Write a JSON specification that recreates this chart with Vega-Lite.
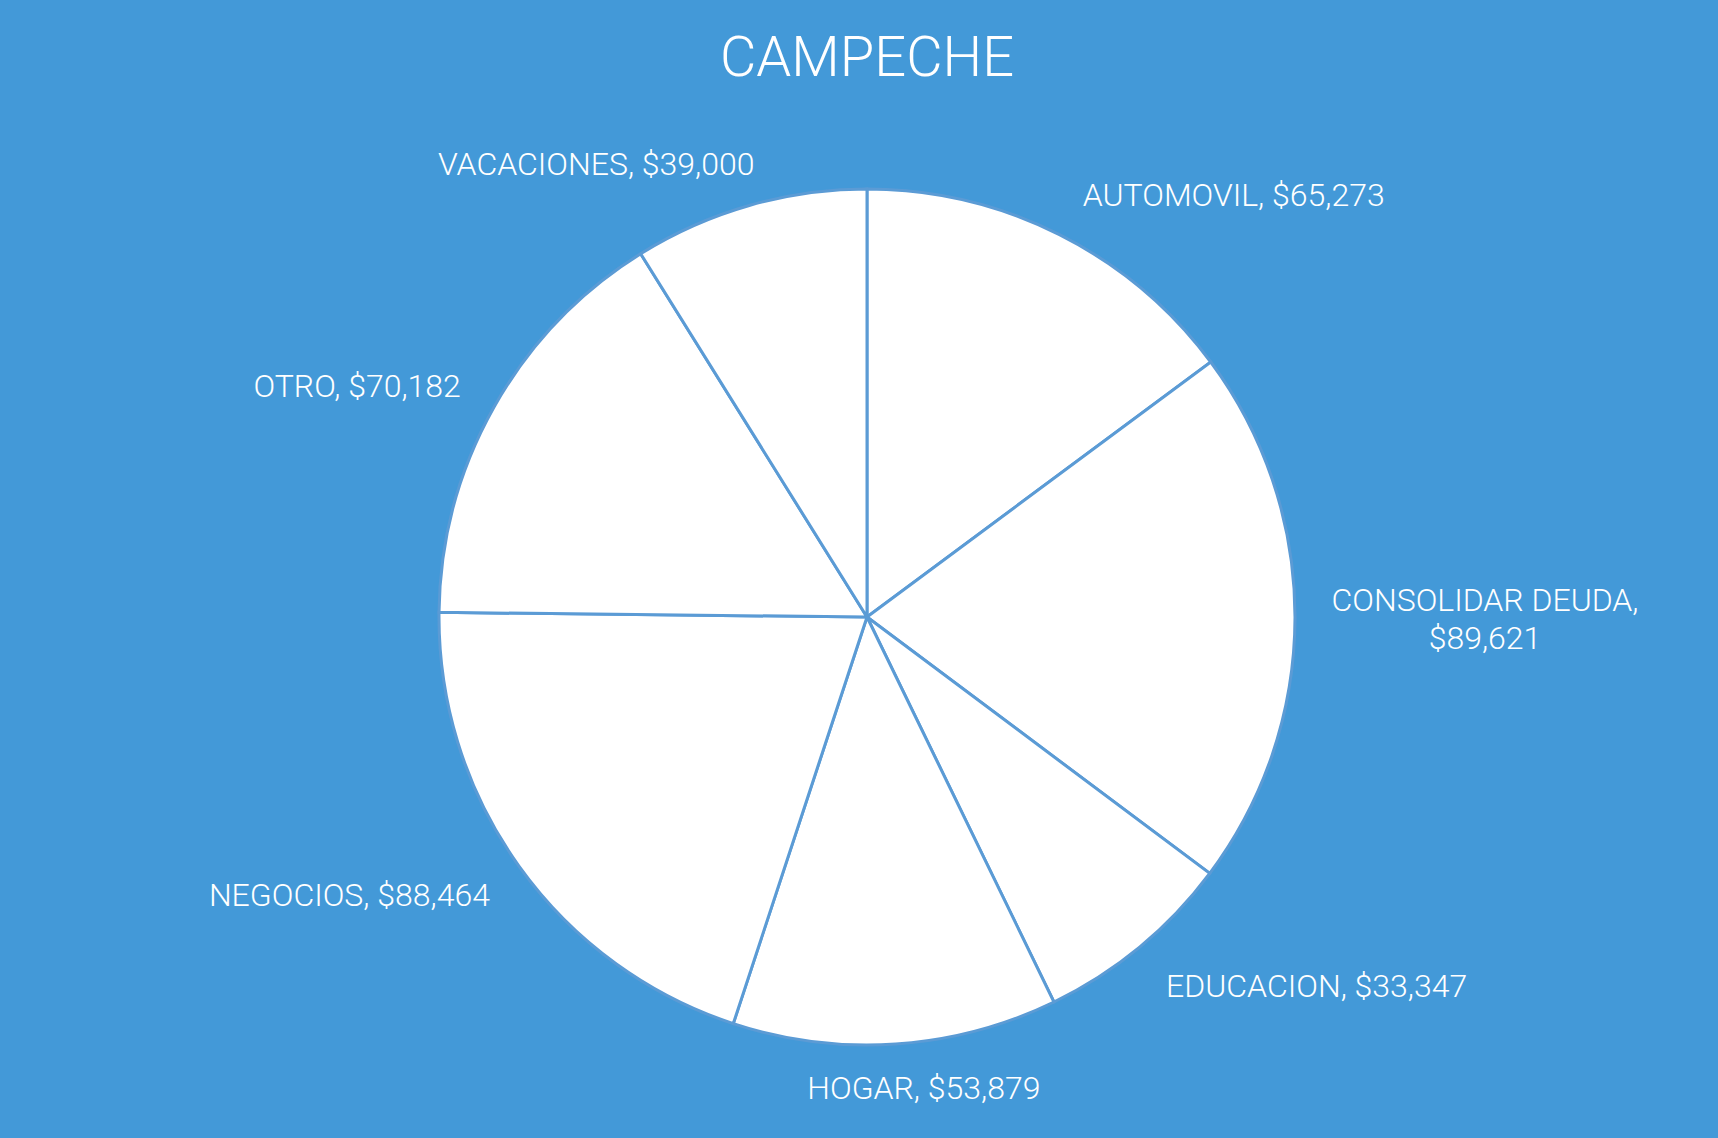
{
  "$schema": "https://vega.github.io/schema/vega-lite/v6.json",
  "autosize": {"type": "none"},
  "width": 1702,
  "height": 1042,
  "padding": {"left": 16, "top": 96, "right": 0, "bottom": 0},
  "background": "#4399d8",
  "view": {"stroke": null},
  "title": {
    "text": "CAMPECHE",
    "font": "Roboto",
    "fontWeight": 300,
    "fontSize": 56,
    "color": "#ffffff",
    "anchor": "middle",
    "offset": 8
  },
  "data": {
    "values": [
      {"k": 1, "cat": "AUTOMOVIL", "value": 65273, "label": "AUTOMOVIL, $65,273"},
      {"k": 2, "cat": "CONSOLIDAR DEUDA", "value": 89621, "label": "CONSOLIDAR DEUDA,\n$89,621"},
      {"k": 3, "cat": "EDUCACION", "value": 33347, "label": "EDUCACION, $33,347"},
      {"k": 4, "cat": "HOGAR", "value": 53879, "label": "HOGAR, $53,879"},
      {"k": 5, "cat": "NEGOCIOS", "value": 88464, "label": "NEGOCIOS, $88,464"},
      {"k": 6, "cat": "OTRO", "value": 70182, "label": "OTRO, $70,182"},
      {"k": 7, "cat": "VACACIONES", "value": 39000, "label": "VACACIONES, $39,000"}
    ]
  },
  "encoding": {
    "theta": {"field": "value", "type": "quantitative", "stack": true},
    "order": {"field": "k", "type": "quantitative"}
  },
  "layer": [
    {
      "mark": {"type": "arc", "outerRadius": 428, "fill": "#ffffff", "stroke": "#5b9bd5", "strokeWidth": 3}
    },
    {
      "mark": {"type": "text", "clip": true, "radius": 460, "dx": 9, "align": "left", "baseline": "alphabetic", "font": "Roboto", "fontWeight": 300, "fontSize": 32, "fill": "#ffffff"},
      "encoding": {"text": {"condition": {"test": "datum.cat === 'AUTOMOVIL'", "field": "label"}, "value": ""}}
    },
    {
      "mark": {"type": "text", "clip": true, "radius": 465, "dx": 3, "dy": -4, "align": "left", "baseline": "top", "font": "Roboto", "fontWeight": 300, "fontSize": 32, "fill": "#ffffff"},
      "encoding": {"text": {"condition": {"test": "datum.cat === 'EDUCACION'", "field": "label"}, "value": ""}}
    },
    {
      "mark": {"type": "text", "clip": true, "radius": 460, "dx": 26, "dy": -2, "align": "center", "baseline": "top", "font": "Roboto", "fontWeight": 300, "fontSize": 32, "fill": "#ffffff"},
      "encoding": {"text": {"condition": {"test": "datum.cat === 'HOGAR'", "field": "label"}, "value": ""}}
    },
    {
      "mark": {"type": "text", "clip": true, "radius": 460, "dx": -3, "dy": -4, "align": "right", "baseline": "top", "font": "Roboto", "fontWeight": 300, "fontSize": 32, "fill": "#ffffff"},
      "encoding": {"text": {"condition": {"test": "datum.cat === 'NEGOCIOS'", "field": "label"}, "value": ""}}
    },
    {
      "mark": {"type": "text", "clip": true, "radius": 466, "dy": -2, "align": "right", "baseline": "middle", "font": "Roboto", "fontWeight": 300, "fontSize": 32, "fill": "#ffffff"},
      "encoding": {"text": {"condition": {"test": "datum.cat === 'OTRO'", "field": "label"}, "value": ""}}
    },
    {
      "mark": {"type": "text", "clip": true, "radius": 460, "dx": 14, "align": "right", "baseline": "alphabetic", "font": "Roboto", "fontWeight": 300, "fontSize": 32, "fill": "#ffffff"},
      "encoding": {"text": {"condition": {"test": "datum.cat === 'VACACIONES'", "field": "label"}, "value": ""}}
    },
    {
      "mark": {"type": "text", "clip": true, "radius": 618, "dy": -7, "align": "center", "baseline": "alphabetic", "lineBreak": "\n", "lineHeight": 38, "font": "Roboto", "fontWeight": 300, "fontSize": 32, "fill": "#ffffff"},
      "encoding": {"text": {"condition": {"test": "datum.cat === 'CONSOLIDAR DEUDA'", "field": "label"}, "value": ""}}
    }
  ]
}
